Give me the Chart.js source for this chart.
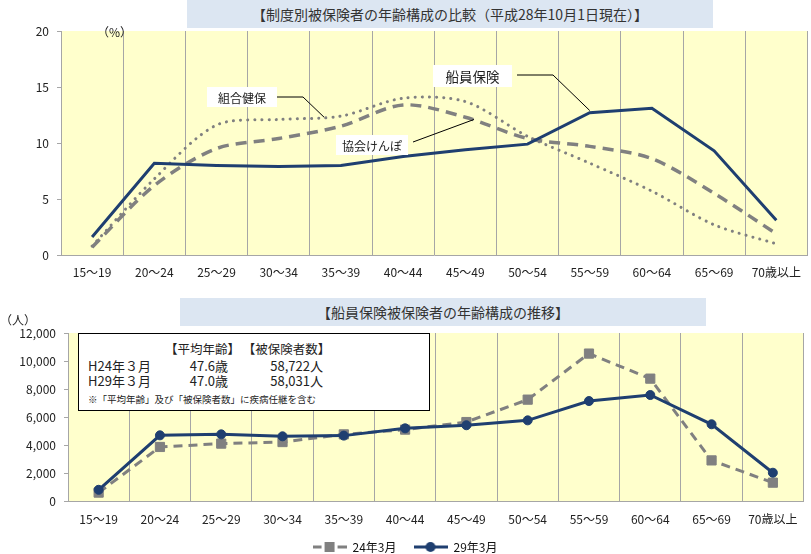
<!DOCTYPE html>
<html>
<head>
<meta charset="utf-8">
<script src="https://cdn.jsdelivr.net/npm/chart.js@4.4.1/dist/chart.umd.min.js"></script>
<style>
body { margin:0; width:811px; height:554px; overflow:hidden; background:#fff; position:relative;
       font-family:"Noto Sans CJK JP", sans-serif; color:#222; }
.wrap { position:absolute; left:0; width:811px; }
.ttl { position:absolute; background:#dce6f2; color:#333; font-size:14px; text-align:center; line-height:28px; }
.unit { position:absolute; font-size:12px; color:#222; }
#info { position:absolute; left:78px; top:333px; width:350px; height:76px; background:#fff; border:1px solid #000; font-size:13px; }
#info div { position:absolute; white-space:nowrap; }
</style>
</head>
<body>
<div class="wrap" style="top:0;height:290px"><canvas id="c1"></canvas></div>
<div class="wrap" style="top:290px;height:273px"><canvas id="c2"></canvas></div>

<div class="ttl" style="left:187px;top:0;width:526px;height:28px">【制度別被保険者の年齢構成の比較（平成28年10月1日現在）】</div>
<div class="ttl" style="left:180px;top:298px;width:526px;height:28px">【船員保険被保険者の年齢構成の推移】</div>
<div class="unit" style="left:97px;top:23px">（%）</div>
<div class="unit" style="left:0;top:311px">（人）</div>

<div id="info">
  <div style="left:86px;top:5px;font-size:12.5px">【平均年齢】 【被保険者数】</div>
  <div style="left:9px;top:22px">H24年３月</div>
  <div style="left:100px;top:22px;width:49px;text-align:right">47.6歳</div>
  <div style="left:180px;top:22px;width:64px;text-align:right">58,722人</div>
  <div style="left:9px;top:37px">H29年３月</div>
  <div style="left:100px;top:37px;width:49px;text-align:right">47.0歳</div>
  <div style="left:180px;top:37px;width:64px;text-align:right">58,031人</div>
  <div style="left:9px;top:58px;font-size:9.5px">※「平均年齢」及び「被保険者数」に疾病任継を含む</div>
</div>

<script>
const ageGroups = ['15～19', '20～24', '25～29', '30～34', '35～39', '40～44',
                   '45～49', '50～54', '55～59', '60～64', '65～69', '70歳以上'];

// top chart: share of insured by age (%), as of 2016-10-01
const seninShare = [1.6, 8.2, 8.0, 7.9, 8.0, 8.8, 9.4, 9.9, 12.7, 13.1, 9.3, 3.1];
const kyokaiShare = [0.7, 6.2, 9.5, 10.4, 11.5, 13.4, 12.3, 10.4, 9.7, 8.6, 5.5, 1.9];
const kumiaiShare = [0.8, 6.8, 11.6, 12.1, 12.4, 14.0, 13.7, 10.6, 8.2, 5.7, 2.7, 1.0];

// bottom chart: number of insured (persons)
const members2012 = [600, 3860, 4100, 4210, 4760, 5100, 5640, 7240, 10530, 8740, 2900, 1310];
const members2017 = [800, 4690, 4760, 4620, 4670, 5190, 5410, 5760, 7140, 7570, 5480, 2020];

const NAVY = '#1f3f70';
const GRAY = '#808080';
const GRID = '#a6a6a6';
const FONT = '"Noto Sans CJK JP", sans-serif';

Chart.defaults.font.family = FONT;
Chart.defaults.color = '#222';

const yellowBg = {
  id: 'yellowBg',
  beforeDraw(chart) {
    const a = chart.chartArea, c = chart.ctx;
    c.save();
    c.fillStyle = '#ffffcc';
    c.fillRect(a.left, a.top, a.right - a.left, a.bottom - a.top);
    c.restore();
  }
};

// callout labels on the top chart; the leader ends at (category index, value)
const callouts = [
  { text: '組合健保', box: [207, 87, 70, 20], size: 12, bend: [[277, 97], [303, 97]], end: [3.73, 12.3] },
  { text: '協会けんぽ', box: [336, 135, 72, 20], size: 12, bend: [[413, 142]], end: [6.14, 12.1] },
  { text: '船員保険', box: [433, 65, 79, 22], size: 13.5, bend: [[517, 75], [553, 75]], end: [8.0, 12.9] }
];

const calloutPlugin = {
  id: 'callouts',
  afterDatasetsDraw(chart) {
    const c = chart.ctx, x = chart.scales.x, y = chart.scales.y;
    c.save();
    callouts.forEach(n => {
      const [bx, by, bw, bh] = n.box;
      c.fillStyle = '#fff';
      c.fillRect(bx, by, bw, bh);
      c.fillStyle = '#222';
      c.font = n.size + 'px ' + FONT;
      c.textAlign = 'center';
      c.textBaseline = 'middle';
      c.fillText(n.text, bx + bw / 2, by + bh / 2 + 1);
      c.strokeStyle = '#000';
      c.lineWidth = 1;
      c.beginPath();
      n.bend.forEach((p, i) => i ? c.lineTo(p[0], p[1]) : c.moveTo(p[0], p[1]));
      c.lineTo(x.getPixelForValue(n.end[0]), y.getPixelForValue(n.end[1]));
      c.stroke();
    });
    c.restore();
  }
};

function xAxis(h, pad) {
  return {
    offset: true,
    grid: { offset: true, color: GRID, drawTicks: false },
    border: { color: GRID },
    ticks: { font: { size: 12 }, color: '#222', padding: pad, maxRotation: 0, autoSkip: false },
    afterFit(s) { s.height = h; }
  };
}

new Chart(document.getElementById('c1'), {
  type: 'line',
  data: {
    labels: ageGroups,
    datasets: [
      { label: '船員保険', data: seninShare, borderColor: NAVY, borderWidth: 3, pointRadius: 0, tension: 0 },
      { label: '協会けんぽ', data: kyokaiShare, borderColor: GRAY, borderWidth: 3.5, borderDash: [11, 7],
        pointRadius: 0, tension: 0.3 },
      { label: '組合健保', data: kumiaiShare, borderColor: GRAY, borderWidth: 3, borderDash: [0.1, 7],
        borderCapStyle: 'round', pointRadius: 0, tension: 0.3 }
    ]
  },
  options: {
    responsive: true,
    maintainAspectRatio: false,
    animation: false,
    layout: { padding: { top: 31, right: 0, bottom: 0, left: 0 } },
    plugins: { legend: { display: false }, tooltip: { enabled: false } },
    scales: {
      x: xAxis(35, 10),
      y: {
        min: 0, max: 20,
        ticks: { stepSize: 5, font: { size: 12 }, color: '#222', padding: 8 },
        grid: { drawOnChartArea: false, color: GRID, tickLength: 4 },
        border: { color: GRID },
        afterFit(s) { s.width = 61; }
      }
    }
  },
  plugins: [yellowBg, calloutPlugin]
});

function legendIcon(color, marker, dashed) {
  const cv = document.createElement('canvas');
  cv.width = 34; cv.height = 12;
  const c = cv.getContext('2d');
  c.strokeStyle = color; c.fillStyle = color; c.lineWidth = 3;
  c.beginPath();
  if (dashed) {
    c.moveTo(0, 6); c.lineTo(9, 6); c.moveTo(25, 6); c.lineTo(34, 6);
  } else {
    c.moveTo(0, 6); c.lineTo(34, 6);
  }
  c.stroke();
  if (marker === 'rect') {
    c.fillRect(12, 1, 10, 10);
  } else {
    c.beginPath(); c.arc(17, 6, 5, 0, Math.PI * 2); c.fill();
  }
  return cv;
}

const seriesNames = ['24年3月', '29年3月'];
const icons = [legendIcon(GRAY, 'rect', true), legendIcon(NAVY, 'circle', false)];

new Chart(document.getElementById('c2'), {
  type: 'line',
  data: {
    labels: ageGroups,
    datasets: [
      { label: seriesNames[0], data: members2012, order: 1, borderColor: GRAY, borderWidth: 3, borderDash: [9, 6],
        pointStyle: 'rect', pointRadius: 6.5, pointBorderWidth: 1, pointBackgroundColor: GRAY, pointBorderColor: GRAY, tension: 0 },
      { label: seriesNames[1], data: members2017, order: 0, borderColor: NAVY, borderWidth: 3,
        pointStyle: 'circle', pointRadius: 4.5, pointBorderWidth: 1, pointBackgroundColor: NAVY, pointBorderColor: NAVY, tension: 0 }
    ]
  },
  options: {
    responsive: true,
    maintainAspectRatio: false,
    animation: false,
    layout: { padding: { top: 43, right: 1, bottom: 0, left: 0 } },
    plugins: {
      tooltip: { enabled: false },
      legend: {
        position: 'bottom',
        labels: {
          usePointStyle: true,
          pointStyleWidth: 34,
          padding: 17,
          font: { size: 12 },
          color: '#111',
          generateLabels() {
            return seriesNames.map((t, i) => ({ text: t, pointStyle: icons[i], datasetIndex: i, hidden: false,
              fontColor: '#111', lineWidth: 0, strokeStyle: 'transparent', fillStyle: 'transparent' }));
          }
        }
      }
    },
    scales: {
      x: xAxis(23, 11),
      y: {
        min: 0, max: 12000,
        ticks: { stepSize: 2000, font: { size: 12 }, color: '#222', padding: 8,
                 callback: v => v.toLocaleString('en-US') },
        grid: { drawOnChartArea: false, color: GRID, tickLength: 4 },
        border: { color: GRID },
        afterFit(s) { s.width = 68; }
      }
    }
  },
  plugins: [yellowBg]
});
</script>
</body>
</html>
